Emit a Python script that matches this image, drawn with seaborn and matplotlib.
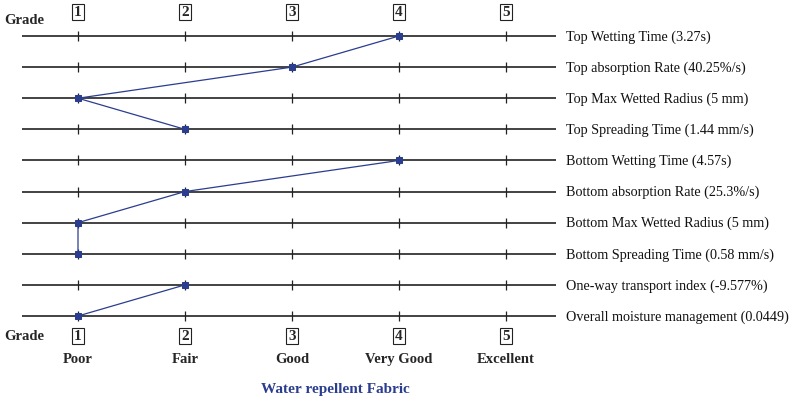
import pandas as pd
import matplotlib
matplotlib.use("Agg")
import matplotlib.pyplot as plt
import seaborn as sns

# Chart data
properties = [
    "Top Wetting Time (3.27s)",
    "Top absorption Rate (40.25%/s)",
    "Top Max Wetted Radius (5 mm)",
    "Top Spreading Time (1.44 mm/s)",
    "Bottom Wetting Time (4.57s)",
    "Bottom absorption Rate (25.3%/s)",
    "Bottom Max Wetted Radius (5 mm)",
    "Bottom Spreading Time (0.58 mm/s)",
    "One-way transport index (-9.577%)",
    "Overall moisture management (0.0449)",
]
grades = [4, 3, 1, 2, 4, 2, 1, 1, 2, 1]
groups = ["top", "top", "top", "top", "bottom", "bottom", "bottom", "bottom",
          "overall", "overall"]
grade_levels = [1, 2, 3, 4, 5]
grade_names = ["Poor", "Fair", "Good", "Very Good", "Excellent"]
title = "Water repellent Fabric"

sns.set_theme(style="white")
plt.rcParams["font.family"] = ["Liberation Serif", "DejaVu Serif"]

blue = "#2b3d8f"

df = pd.DataFrame({"property": properties, "grade": grades, "group": groups,
                   "row": list(range(len(properties)))})

fig = plt.figure(figsize=(7.89, 4.02), dpi=100)
ax = fig.add_axes([0, 0, 1, 1])

# Scale rows and grades so the layout matches the original
x0, dx = 78, 107
y0, dy = 37, 31.11
ax.set_xlim(1 - x0 / dx, 1 + (789 - x0) / dx)
ax.set_ylim((402 - y0) / dy, -y0 / dy)
ax.axis("off")

# Base lines and tick marks
ax.hlines(df["row"], 1 - 56 / dx, 5 + 50 / dx, color="#222222", lw=1.2, zorder=1)
for r in df["row"]:
    ax.plot(grade_levels, [r] * 5, ls="none", marker="|", ms=7, mew=0.9,
            color="#222222", zorder=2)

# Profile, one connected segment per group
sns.lineplot(data=df, x="grade", y="row", units="group", sort=False,
             estimator=None, color=blue, lw=0.9, marker="s", markersize=4,
             markeredgecolor=blue, ax=ax, zorder=3)
ax.set_xlabel("")
ax.set_ylabel("")

# Property labels
for r, name in zip(df["row"], properties):
    ax.text(5 + 60 / dx, r, name, va="center", ha="left", fontsize=10.2,
            color="#111111")

# Grade headers
top_y = -24 / dy
bot_y = (337 - y0) / dy
box = dict(boxstyle="square,pad=0.12", fc="white", ec="#222222", lw=0.8)
for g in grade_levels:
    ax.text(g, top_y, str(g), ha="center", va="center", fontsize=11,
            fontweight="bold", bbox=box)
    ax.text(g, bot_y, str(g), ha="center", va="center", fontsize=11,
            fontweight="bold", bbox=box)
ax.text(1 - 74 / dx, (20 - y0) / dy, "Grade", ha="left", va="center",
        fontsize=10.5, fontweight="bold")
ax.text(1 - 74 / dx, bot_y, "Grade", ha="left", va="center",
        fontsize=10.5, fontweight="bold")

for g, name in zip(grade_levels, grade_names):
    ax.text(g, (360 - y0) / dy, name, ha="center", va="center",
            fontsize=10.5, fontweight="bold")

ax.text(1 + (335 - x0) / dx, (390 - y0) / dy, title, ha="center",
        va="center", fontsize=11, fontweight="bold", color=blue)

fig.savefig("out.png", dpi=100)
